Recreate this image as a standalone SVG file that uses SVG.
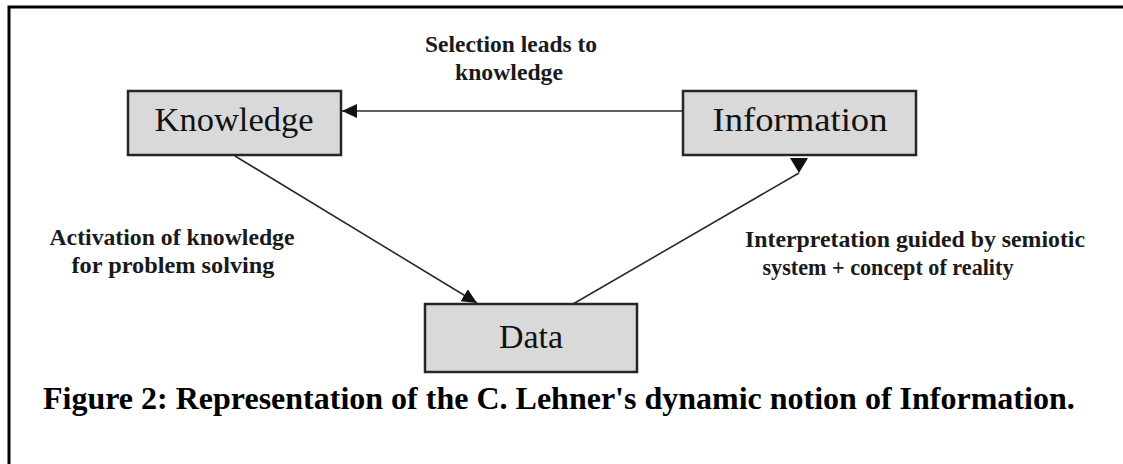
<svg xmlns="http://www.w3.org/2000/svg" width="1123" height="464" viewBox="0 0 1123 464">
<style>
.box{fill:#d9d9d9;stroke:#262626;stroke-width:2.5}
.nt{font-family:"Liberation Serif","Times New Roman",Times,serif;font-size:34px;fill:#111;text-anchor:middle}
.lb{font-family:"Liberation Serif","Times New Roman",Times,serif;font-weight:bold;font-size:23px;fill:#1a1a1a;text-anchor:middle}
.cap{font-family:"Liberation Serif","Times New Roman",Times,serif;font-weight:bold;font-size:32px;fill:#000}
.con{stroke:#2a2a2a;stroke-width:1.6;fill:none}
</style>
<defs>
<marker id="ah" markerUnits="userSpaceOnUse" markerWidth="16" markerHeight="14" refX="15" refY="7" orient="auto" viewBox="0 0 16 14">
<path d="M0,0 L15,7 L0,14 z" fill="#111"/>
</marker>
<marker id="ahd" markerUnits="userSpaceOnUse" markerWidth="16" markerHeight="18" refX="15" refY="9" orient="90" viewBox="0 0 16 18">
<path d="M0,0 L15,9 L0,18 z" fill="#111"/>
</marker>
</defs>
<rect width="1123" height="464" fill="#fff"/>
<rect x="9" y="7" width="1200" height="600" fill="none" stroke="#000" stroke-width="3"/>
<g id="connectors">
<line class="con" x1="683" y1="111" x2="342" y2="111" marker-end="url(#ah)"/>
<line class="con" x1="235" y1="156" x2="477" y2="303" marker-end="url(#ah)"/>
<line class="con" x1="573" y1="304" x2="799" y2="173" marker-end="url(#ahd)"/>
</g>
<g id="knowledge">
<rect class="box" x="128" y="91" width="213" height="64"/>
<text class="nt" x="234" y="131" textLength="159" lengthAdjust="spacingAndGlyphs">Knowledge</text>
</g>
<g id="information">
<rect class="box" x="683" y="91" width="233" height="64"/>
<text class="nt" x="800" y="131" textLength="175" lengthAdjust="spacingAndGlyphs">Information</text>
</g>
<g id="data">
<rect class="box" x="425" y="304" width="212" height="68"/>
<text class="nt" x="531" y="348">Data</text>
</g>
<g id="labels">
<text class="lb" x="511" y="52" textLength="172" lengthAdjust="spacingAndGlyphs">Selection leads to</text>
<text class="lb" x="509" y="80" textLength="108" lengthAdjust="spacingAndGlyphs">knowledge</text>
<text class="lb" x="172" y="245" textLength="245" lengthAdjust="spacingAndGlyphs">Activation of knowledge</text>
<text class="lb" x="173" y="273" textLength="203" lengthAdjust="spacingAndGlyphs">for problem solving</text>
<text class="lb" x="915" y="247" textLength="340" lengthAdjust="spacingAndGlyphs">Interpretation guided by semiotic</text>
<text class="lb" x="888" y="275" textLength="251" lengthAdjust="spacingAndGlyphs">system + concept of reality</text>
</g>
<text class="cap" x="43" y="409">Figure 2: Representation of the C. Lehner's dynamic notion of Information.</text>
</svg>
